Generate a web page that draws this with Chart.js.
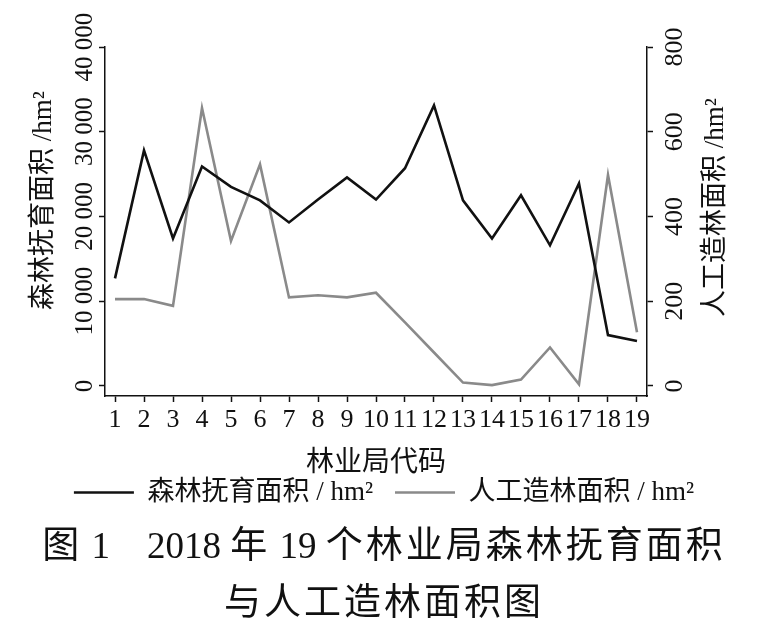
<!DOCTYPE html>
<html>
<head>
<meta charset="utf-8">
<script src="https://cdn.jsdelivr.net/npm/chart.js@4/dist/chart.umd.min.js"></script>
<style>
  html, body { margin: 0; padding: 0; background: #fff; }
  #wrap { position: relative; width: 768px; height: 624px; overflow: hidden; }
  #box { position: absolute; left: 0; top: 0; width: 768px; height: 516px; }
  .cap { position: absolute; left: 0; width: 768px; text-align: center; white-space: pre;
         font-family: 'Liberation Serif', 'Noto Sans CJK SC', serif; font-size: 37px; color: #111; }
  .cj { letter-spacing: 3px; }
</style>
</head>
<body>
<div id="wrap">
  <div id="box"><canvas id="c"></canvas></div>
  <div class="cap" id="cap1" style="top:515px;"><span class="cj">图</span> 1    2018 <span class="cj">年</span> 19 <span class="cj">个林业局森林抚育面积</span></div>
  <div class="cap" id="cap2" style="top:572px;"><span class="cj">与人工造林面积图</span></div>
</div>
<script>
// ---- data ----
const codes = [1,2,3,4,5,6,7,8,9,10,11,12,13,14,15,16,17,18,19];
const tendingArea = [12700,27800,17400,25900,23500,21900,19300,22000,24600,22000,25700,33100,21900,17400,22500,16600,23900,6000,5300];
const plantedArea = [205,205,189,656,342,523,209,214,209,220,150,79,8,2,15,91,4,498,127];
const leftTicks = [0,10000,20000,30000,40000];
const rightTicks = [0,200,400,600,800];
const seriesNames = ['森林抚育面积 / hm²', '人工造林面积 / hm²'];
const xTitle = '林业局代码';
const leftTitle = '森林抚育面积 /hm²';
const rightTitle = '人工造林面积 /hm²';

const FONT = "'Liberation Serif', 'Noto Sans CJK SC', serif";
const INK = '#111';

function fmt(v) { return String(v).replace(/\B(?=(\d{3})+(?!\d))/g, ' '); }

const axisTitles = {
  id: 'axisTitles',
  afterDraw(chart) {
    const ctx = chart.ctx;
    const ca = chart.chartArea;
    ctx.save();
    ctx.fillStyle = INK;
    ctx.font = '27px ' + FONT;
    ctx.textAlign = 'center';
    ctx.textBaseline = 'middle';
    const cy = (ca.top + ca.bottom) / 2;
    ctx.save(); ctx.translate(44, cy - 21); ctx.rotate(-Math.PI / 2); ctx.fillText(leftTitle, 0, 0); ctx.restore();
    ctx.save(); ctx.translate(716, cy - 14); ctx.rotate(-Math.PI / 2); ctx.fillText(rightTitle, 0, 0); ctx.restore();
    ctx.restore();
  }
};

const axisCommon = {
  grid: { display: true, drawOnChartArea: false, drawTicks: true, tickLength: 6, color: INK, tickWidth: 1.5 },
  border: { display: true, color: INK, width: 1.5 }
};

new Chart(document.getElementById('c'), {
  type: 'line',
  data: {
    datasets: [
      { label: seriesNames[0], data: codes.map((c, i) => ({ x: c, y: tendingArea[i] })), yAxisID: 'y',
        borderColor: INK, backgroundColor: INK, borderWidth: 2.6, pointRadius: 0, tension: 0 },
      { label: seriesNames[1], data: codes.map((c, i) => ({ x: c, y: plantedArea[i] })), yAxisID: 'y1',
        borderColor: '#8a8a8a', backgroundColor: '#8a8a8a', borderWidth: 2.6, pointRadius: 0, tension: 0 }
    ]
  },
  options: {
    responsive: true,
    maintainAspectRatio: false,
    animation: false,
    layout: { padding: { top: 47, left: 0, right: 0, bottom: 0 } },
    plugins: {
      tooltip: { enabled: false },
      title: { display: false },
      legend: {
        position: 'bottom',
        labels: {
          color: INK, font: { family: FONT, size: 27 }, padding: 22,
          usePointStyle: true, pointStyle: 'line', pointStyleWidth: 60
        }
      }
    },
    scales: {
      x: {
        type: 'linear', position: 'bottom', min: 0.655, max: 19.345,
        ...axisCommon,
        afterBuildTicks: s => { s.ticks = codes.map(v => ({ value: v })); },
        afterFit: s => { s.height = 61; },
        ticks: { color: INK, font: { family: FONT, size: 26 }, padding: 3, autoSkip: false, maxRotation: 0, minRotation: 0,
                 callback: v => String(v) },
        title: { display: true, text: xTitle, color: INK, font: { family: FONT, size: 28 }, padding: { top: 0, bottom: -23 } }
      },
      y: {
        type: 'linear', position: 'left', min: -1183, max: 40000,
        ...axisCommon,
        afterBuildTicks: s => { s.ticks = leftTicks.map(v => ({ value: v })); },
        afterFit: s => { s.width = 105; },
        ticks: { color: INK, font: { family: FONT, size: 25 }, minRotation: 90, maxRotation: 90, crossAlign: 'center',
                 padding: -21, callback: v => fmt(v) }
      },
      y1: {
        type: 'linear', position: 'right', min: -23.7, max: 800,
        ...axisCommon,
        afterBuildTicks: s => { s.ticks = rightTicks.map(v => ({ value: v })); },
        afterFit: s => { s.width = 121; },
        ticks: { color: INK, font: { family: FONT, size: 26 }, minRotation: 90, maxRotation: 90, crossAlign: 'center',
                 padding: 3, callback: v => String(v) }
      }
    }
  },
  plugins: [axisTitles]
});
</script>
</body>
</html>
